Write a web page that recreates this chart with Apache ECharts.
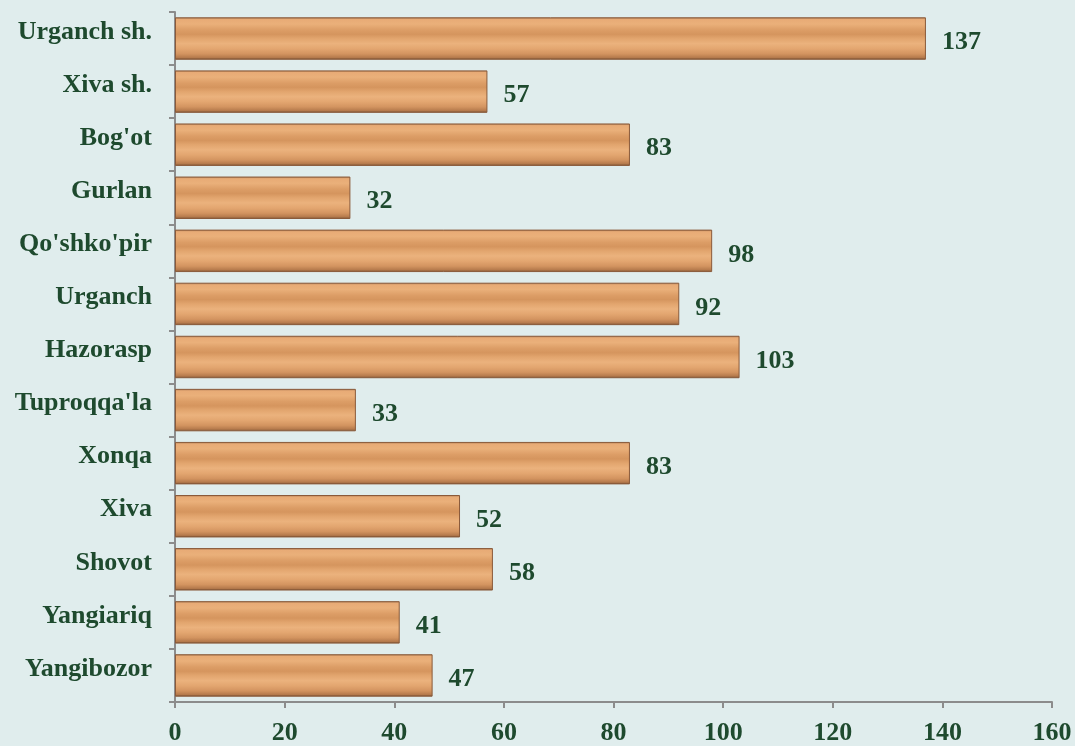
<!DOCTYPE html>
<html>
<head>
<meta charset="utf-8">
<script src="https://cdn.jsdelivr.net/npm/echarts@6/dist/echarts.min.js"></script>
<style>
html,body{margin:0;padding:0;background:#e0eded;}
#chart{width:1075px;height:746px;}
</style>
</head>
<body>
<div id="chart"></div>
<script>
const categories = ["Urganch sh.", "Xiva sh.", "Bog'ot", "Gurlan", "Qo'shko'pir", "Urganch", "Hazorasp", "Tuproqqa'la", "Xonqa", "Xiva", "Shovot", "Yangiariq", "Yangibozor"];
const values = [137, 57, 83, 32, 98, 92, 103, 33, 83, 52, 58, 41, 47];
const xTicks = { min: 0, max: 160, interval: 20 };

const textColor = '#1e4a2e';
const font = '"Liberation Serif", "Times New Roman", serif';

const chart = echarts.init(document.getElementById('chart'), null, { renderer: 'canvas' });

const woodGradient = new echarts.graphic.LinearGradient(0, 0, 0, 1, [
  { offset: 0, color: '#a4744e' },
  { offset: 0.05, color: '#e8ab76' },
  { offset: 0.16, color: '#eab07a' },
  { offset: 0.3, color: '#dc9d66' },
  { offset: 0.4, color: '#d5955e' },
  { offset: 0.5, color: '#e2a56e' },
  { offset: 0.62, color: '#ebb27d' },
  { offset: 0.74, color: '#e3a670' },
  { offset: 0.86, color: '#d39460' },
  { offset: 0.95, color: '#b57a4c' },
  { offset: 1, color: '#6e4a2e' }
]);

chart.setOption({
  backgroundColor: '#e0eded',
  animation: false,
  grid: { left: 175, right: 23, top: 12, bottom: 43, containLabel: false },
  xAxis: {
    type: 'value',
    min: xTicks.min, max: xTicks.max, interval: xTicks.interval,
    splitLine: { show: false },
    axisLine: { show: true, lineStyle: { color: '#8c8c8c', width: 2 } },
    axisTick: { show: true, length: 6, lineStyle: { color: '#8c8c8c', width: 2 } },
    axisLabel: { color: textColor, fontFamily: font, fontWeight: 'bold', fontSize: 26, margin: 18 }
  },
  yAxis: {
    type: 'category',
    data: categories,
    inverse: true,
    axisLine: { show: true, lineStyle: { color: '#8c8c8c', width: 2 } },
    axisTick: { show: true, length: 6, alignWithLabel: false, lineStyle: { color: '#8c8c8c', width: 2 } },
    axisLabel: { color: textColor, fontFamily: font, fontWeight: 'bold', fontSize: 26, margin: 23, verticalAlign: 'bottom', lineHeight: 13 }
  },
  series: [{
    type: 'bar',
    data: values,
    barCategoryGap: '20%',
    itemStyle: { color: woodGradient, borderColor: '#8a5a3a', borderWidth: 1 },
    label: {
      show: true, position: 'right', distance: 16, offset: [0, 4],
      color: textColor, fontFamily: font, fontWeight: 'bold', fontSize: 26
    }
  }]
});
</script>
</body>
</html>
